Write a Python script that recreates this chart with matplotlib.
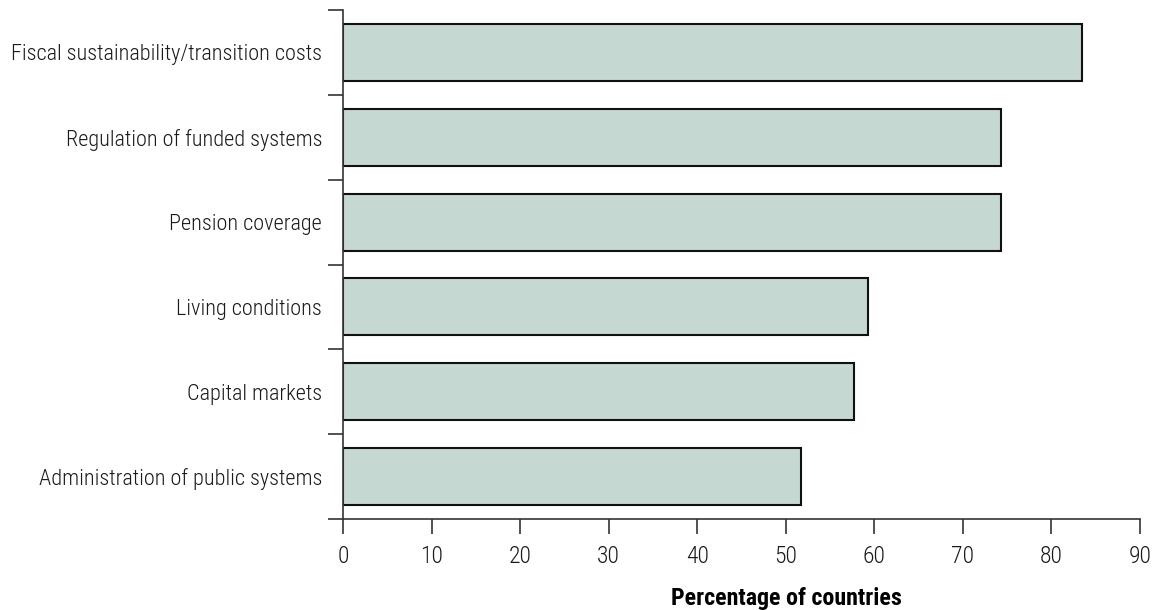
import matplotlib.pyplot as plt
from matplotlib import font_manager

# data (top to bottom as in the chart)
categories = [
    'Fiscal sustainability/transition costs',
    'Regulation of funded systems',
    'Pension coverage',
    'Living conditions',
    'Capital markets',
    'Administration of public systems',
]
values = [83.5, 74.3, 74.3, 59.3, 57.7, 51.7]
xticks = [0, 10, 20, 30, 40, 50, 60, 70, 80, 90]

names = {f.name for f in font_manager.fontManager.ttflist}
fam = 'Liberation Sans Narrow' if 'Liberation Sans Narrow' in names else 'Roboto Condensed' if 'Roboto Condensed' in names else 'Liberation Sans'
plt.rcParams['font.family'] = [fam, 'DejaVu Sans']
plt.rcParams['font.size'] = 16
plt.rcParams['font.weight'] = 'light'
plt.rcParams['text.color'] = '#1a1a1a'
plt.rcParams['xtick.color'] = '#1a1a1a'
plt.rcParams['ytick.color'] = '#1a1a1a'

fig = plt.figure(figsize=(11.59, 6.10), dpi=100)
ax = fig.add_axes([343 / 1159, 1 - 519 / 610, (1140 - 343) / 1159, (519 - 10) / 610])

n = len(categories)
ypos = [n - 1 - i + 0.5 for i in range(n)]
ax.barh(ypos, values, height=0.67, color='#c6d8d2', edgecolor='#111111', linewidth=1.5)

ax.set_xlim(0, 90)
ax.set_ylim(0, n)
ax.set_xticks(xticks)
ax.set_xticklabels([str(t) for t in xticks], fontsize=17)
ax.set_yticks(range(n + 1))
ax.set_yticklabels([])
ax.set_yticks(ypos, minor=True)
ax.set_yticklabels(categories, minor=True)
ax.tick_params(axis='y', which='minor', length=0, pad=15)
ax.tick_params(axis='y', which='major', length=11, width=1.2, color='#333333')
ax.tick_params(axis='x', length=11, width=1.2, color='#333333', pad=8)

for s in ['top', 'right']:
    ax.spines[s].set_visible(False)
for s in ['left', 'bottom']:
    ax.spines[s].set_linewidth(1.2)
    ax.spines[s].set_color('#333333')

ax.set_xlabel('Percentage of countries', fontweight='bold', fontsize=17.3)
ax.xaxis.set_label_coords(0.557, -0.134)

plt.savefig('out.png', dpi=100)
